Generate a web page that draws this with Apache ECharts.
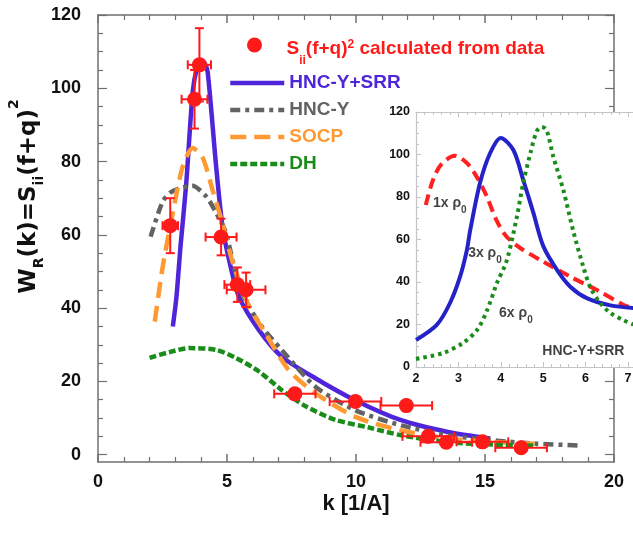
<!DOCTYPE html>
<html><head><meta charset="utf-8">
<script src="https://cdn.jsdelivr.net/npm/echarts@6/dist/echarts.min.js"></script>
<style>html,body{margin:0;padding:0;background:#fff}#c{width:633px;height:536px}</style>
</head><body><div id="c"></div>
<script>
// ---- main panel data ----
var dataK    = [2.8, 3.93, 3.74, 4.77, 5.4, 5.74, 7.63, 9.98, 11.95, 12.8, 13.5, 14.9, 16.4];
var dataV    = [62.5, 106.4, 97, 59.4, 46.4, 45, 16.6, 14.5, 13.4, 5.0, 3.4, 3.5, 1.9];
var dataKErr = [0.3, 0.45, 0.5, 0.6, 0.5, 0.75, 0.8, 1.0, 1.0, 1.0, 1.0, 1.0, 1.0];
var dataVErr = [7.5, 10, 8, 5, 4.7, 4.7, 1, 1, 1, 1, 1, 1, 1];

var srrK = [2.9, 3.04, 3.2, 3.42, 3.67, 3.85, 4.0, 4.12, 4.25, 4.58, 4.83, 5.15, 5.47, 6.24, 7.13, 8.44, 9.98, 11.75, 13.56, 15.2];
var srrV = [35, 43, 57, 74, 99, 106, 107.7, 107, 104.5, 78.6, 62, 51, 43, 34, 26.7, 20.8, 14.8, 9.4, 6.2, 4.4];

var hncK = [2.04, 2.5, 2.8, 3.16, 3.66, 4.19, 4.58, 4.96, 5.47, 6.24, 7.13, 8.44, 9.98, 11.75, 13.56, 15.5, 17, 18.65];
var hncV = [59.5, 69, 71.5, 72.7, 73.4, 70.5, 66, 60.5, 46, 36, 28.5, 18.5, 12.1, 8, 5.3, 3.8, 3.0, 2.5];

var socpK = [2.2, 2.5, 2.9, 3.28, 3.67, 4.06, 4.45, 4.83, 5.2, 5.86, 6.5, 7.4, 8.44, 9.98, 11.75, 13.56, 15.5, 17.2];
var socpV = [36.3, 51, 66, 78.6, 83.7, 81, 72, 63, 53, 40.4, 33, 23, 16.7, 10.3, 6.6, 4.4, 3.4, 2.9];

var dhK = [2.0, 2.77, 3.55, 4.58, 5.35, 6.24, 7.13, 8.05, 9.2, 10.5, 11.75, 13.56, 15.5, 17.0];
var dhV = [26.4, 28, 29.1, 28.6, 26.4, 22.7, 17.6, 13.2, 9.5, 7.4, 5.3, 3.4, 2.7, 2.4];

var mainXTicks = [0, 5, 10, 15, 20];
var mainYLabels = [0, 20, 40, 60, 80, 100, 120];
var mainYMinor = [5, 10, 15, 25, 30, 35, 45, 50, 55, 65, 70, 75, 85, 90, 95, 105, 110, 115];

// ---- inset data ----
var rho1K = [2.23, 2.4, 2.6, 2.92, 3.2, 3.43, 3.67, 3.9, 4.14, 4.46, 4.93, 5.64, 6.27, 6.9, 7.13];
var rho1V = [76.2, 88, 95.5, 99.4, 96, 89.6, 80.3, 69, 61.3, 56, 50.4, 42.5, 36.2, 29.2, 27.5];

var rho3K = [2.0, 2.49, 2.8, 3.04, 3.2, 3.28, 3.51, 3.75, 4.0, 4.3, 4.53, 4.77, 5.0, 5.33, 5.64, 6.03, 6.59, 7.13];
var rho3V = [12.7, 19.8, 30, 42.5, 55, 64.5, 86.6, 100.7, 107.8, 102, 88, 72.5, 57, 45.6, 37.8, 32.4, 29, 27.8];

var rho6K = [2.0, 2.64, 3.11, 3.44, 3.68, 3.91, 4.14, 4.38, 4.53, 4.7, 4.85, 4.97, 5.08, 5.24, 5.48, 5.71, 5.95, 6.11, 6.35, 6.59, 6.9, 7.13];
var rho6V = [3.8, 6.6, 11.3, 17.4, 26.8, 39.5, 50, 70.7, 86.6, 100.7, 111, 113, 111.5, 99, 83, 64, 47, 37.6, 30, 25.4, 22, 20];

var insetLabelK = [2.4, 3.23, 3.96, 4.98];
var insetLabelV = [77, 53.6, 25.4, 7.5];
var insetLabelText = ['1x', '3x', '6x', 'HNC-Y+SRR'];

function zip(a, b) { return a.map(function (v, i) { return [v, b[i]]; }); }

var FONT = '"Liberation Sans", Arial, sans-serif';
var RED = '#ff1a1a', BLUE = '#4f25d9', GRAY = '#636363', ORANGE = '#ff9a33', GREEN = '#1a8c1a';
var FRAME = '#707070', IFRAME = '#c4c4c4';

var chart = echarts.init(document.getElementById('c'), null, { renderer: 'canvas' });

function mainX(pos, labels) {
  return {
    type: 'value', gridIndex: 0, position: pos, min: 0, max: 20, interval: 5,
    axisLine: { show: true, onZero: false, lineStyle: { color: FRAME, width: 1.5 } },
    axisTick: { show: true, inside: true, length: 8, lineStyle: { color: FRAME, width: 1.5 } },
    minorTick: { show: true, splitNumber: 5, length: 5, lineStyle: { color: FRAME, width: 1.2 } },
    splitLine: { show: false },
    axisLabel: { show: labels, margin: 11, color: '#111', fontSize: 18, fontWeight: 'bold', fontFamily: FONT }
  };
}
function mainY(pos, major, labels) {
  return {
    type: 'value', gridIndex: 0, position: pos, min: -2, max: 120,
    axisLine: { show: major, onZero: false, lineStyle: { color: FRAME, width: 1.5 } },
    axisTick: { show: true, inside: true, length: major ? 9 : 5, customValues: major ? mainYLabels : mainYMinor,
      lineStyle: { color: FRAME, width: 1.2 } },
    splitLine: { show: false },
    axisLabel: { show: labels, customValues: mainYLabels, margin: 17, color: '#111', fontSize: 18, fontWeight: 'bold', fontFamily: FONT }
  };
}

var yName = {
  type: 'value', gridIndex: 0, position: 'left', min: -2, max: 120,
  axisLine: { show: true, onZero: false, lineStyle: { color: FRAME, width: 1.5 } },
  axisTick: { show: true, inside: true, length: 9, customValues: mainYLabels, lineStyle: { color: FRAME, width: 1.2 } },
  splitLine: { show: false },
  axisLabel: { show: true, customValues: mainYLabels, margin: 17, color: '#111', fontSize: 18, fontWeight: 'bold', fontFamily: FONT },
  name: '{a|W}{s|R}{a|(k)=S}{s|ii}{a|(f+q)}{p|2}',
  nameLocation: 'middle', nameRotate: 90, nameGap: 57, nameMoveOverlap: false,
  nameTextStyle: {
    padding: [0, 0, 0, 84],
    rich: {
      a: { fontSize: 23, fontWeight: 'bold', fontFamily: '"DejaVu Sans", sans-serif', color: '#111', lineHeight: 24, verticalAlign: 'middle' },
      s: { fontSize: 14, fontWeight: 'bold', fontFamily: '"DejaVu Sans", sans-serif', color: '#111', lineHeight: 14, padding: [20, 0, 0, 0], verticalAlign: 'middle' },
      p: { fontSize: 14, fontWeight: 'bold', fontFamily: '"DejaVu Sans", sans-serif', color: '#111', lineHeight: 14, padding: [0, 0, 30, 0], verticalAlign: 'middle' }
    }
  }
};

var xMainBottom = mainX('bottom', true);
xMainBottom.name = 'k [1/A]';
xMainBottom.nameLocation = 'middle';
xMainBottom.nameGap = 31;
xMainBottom.nameMoveOverlap = false;
xMainBottom.nameTextStyle = { fontSize: 22, fontWeight: 'bold', fontFamily: FONT, color: '#111' };

function insetX(pos, labels) {
  return {
    type: 'value', gridIndex: 1, position: pos, min: 2, max: 7.12, interval: 1, z: 6,
    axisLine: { show: true, onZero: false, lineStyle: { color: IFRAME, width: 1.2 } },
    axisTick: { show: true, inside: true, length: 5, lineStyle: { color: IFRAME } },
    minorTick: { show: true, splitNumber: 5, length: 3, lineStyle: { color: IFRAME } },
    splitLine: { show: false },
    axisLabel: { show: labels, margin: 5, color: '#111', fontSize: 12.5, fontWeight: 'bold', fontFamily: FONT }
  };
}
var insetY = {
  type: 'value', gridIndex: 1, position: 'left', min: 0, max: 120, interval: 20, z: 6,
  axisLine: { show: true, onZero: false, lineStyle: { color: IFRAME, width: 1.2 } },
  axisTick: { show: true, inside: true, length: 5, lineStyle: { color: IFRAME } },
  minorTick: { show: true, splitNumber: 4, length: 3, lineStyle: { color: IFRAME } },
  splitLine: { show: false },
  axisLabel: { show: true, margin: 6, color: '#111', fontSize: 12.5, fontWeight: 'bold', fontFamily: FONT }
};

function legendRow(name, top, color, itemH, extra) {
  var l = {
    data: [name], orient: 'vertical', left: 228, top: top, padding: 0,
    itemWidth: 54, itemHeight: itemH, selectedMode: false,
    itemStyle: { color: 'rgba(0,0,0,0)', borderWidth: 0 },
    lineStyle: { width: 4.5 },
    textStyle: { color: color, fontSize: 19, fontWeight: 'bold', fontFamily: FONT }
  };
  if (extra) for (var k in extra) l[k] = extra[k];
  return l;
}

var richLegend = {
  a: { fontSize: 19, fontWeight: 'bold', fontFamily: FONT, color: RED, lineHeight: 20, padding: [8, 0, 0, 0], verticalAlign: 'middle' },
  b: { fontSize: 12, fontWeight: 'bold', fontFamily: FONT, color: RED, lineHeight: 12, padding: [32, 0, 0, 0], verticalAlign: 'middle' },
  c: { fontSize: 12, fontWeight: 'bold', fontFamily: FONT, color: RED, lineHeight: 12, verticalAlign: 'middle' }
};

var errData = dataK.map(function (k, i) { return [k, dataV[i], dataKErr[i], dataVErr[i]]; });

var option = {
  animation: false,
  backgroundColor: '#fff',
  grid: [
    { left: 98, right: 19, top: 15, bottom: 74, containLabel: false, outerBoundsMode: 'none' },
    { left: 416, right: 0, top: 112, bottom: 169, show: true, backgroundColor: '#fff', borderWidth: 0, z: 5,
      containLabel: false, outerBoundsMode: 'none' }
  ],
  legend: [
    legendRow('data', 23, RED, 15, {
      left: 247,
      itemStyle: {},
      formatter: function () { return '{a|S}{b|ii}{a|(f+q)}{c|2}{a| calculated from data}'; },
      textStyle: { color: RED, fontSize: 19, fontWeight: 'bold', fontFamily: FONT, rich: richLegend }
    }),
    legendRow('HNC-Y+SRR', 73.5, BLUE, 14),
    legendRow('HNC-Y', 100.5, GRAY, 14),
    legendRow('SOCP', 127.5, ORANGE, 14),
    legendRow('DH', 154.5, GREEN, 14)
  ],
  xAxis: [xMainBottom, mainX('top', false), insetX('bottom', true), insetX('top', false)],
  yAxis: [yName, mainY('left', false, false), mainY('right', true, false), mainY('right', false, false), insetY],
  series: [
    { name: 'HNC-Y+SRR', type: 'line', xAxisIndex: 0, yAxisIndex: 0, data: zip(srrK, srrV), smooth: 0.25,
      symbol: 'none', lineStyle: { color: BLUE, width: 4.5 }, itemStyle: { color: BLUE }, z: 3 },
    { name: 'HNC-Y', type: 'line', xAxisIndex: 0, yAxisIndex: 0, data: zip(hncK, hncV), smooth: 0.25,
      symbol: 'none', lineStyle: { color: GRAY, width: 4.5, type: [10, 5, 4, 5] }, itemStyle: { color: GRAY }, z: 3 },
    { name: 'SOCP', type: 'line', xAxisIndex: 0, yAxisIndex: 0, data: zip(socpK, socpV), smooth: 0.25,
      symbol: 'none', lineStyle: { color: ORANGE, width: 4.5, type: [16, 8] }, itemStyle: { color: ORANGE }, z: 3 },
    { name: 'DH', type: 'line', xAxisIndex: 0, yAxisIndex: 0, data: zip(dhK, dhV), smooth: 0.25,
      symbol: 'none', lineStyle: { color: GREEN, width: 4.5, type: [7, 3] }, itemStyle: { color: GREEN }, z: 3 },
    { name: 'errors', type: 'custom', xAxisIndex: 0, yAxisIndex: 0, data: errData, z: 4,
      encode: { x: 0, y: 1 },
      renderItem: function (params, api) {
        var x = api.value(0), y = api.value(1), dx = api.value(2), dy = api.value(3);
        var l = api.coord([x - dx, y]), r = api.coord([x + dx, y]);
        var t = api.coord([x, y + dy]), b = api.coord([x, y - dy]);
        var cap = 4.5, st = { stroke: RED, lineWidth: 2 };
        function ln(x1, y1, x2, y2) { return { type: 'line', shape: { x1: x1, y1: y1, x2: x2, y2: y2 }, style: st }; }
        return { type: 'group', children: [
          ln(l[0], l[1], r[0], r[1]),
          ln(l[0], l[1] - cap, l[0], l[1] + cap),
          ln(r[0], r[1] - cap, r[0], r[1] + cap),
          ln(t[0], t[1], b[0], b[1]),
          ln(t[0] - cap, t[1], t[0] + cap, t[1]),
          ln(b[0] - cap, b[1], b[0] + cap, b[1])
        ] };
      }
    },
    { name: 'data', type: 'scatter', xAxisIndex: 0, yAxisIndex: 0, data: zip(dataK, dataV), symbol: 'circle',
      symbolSize: 15, itemStyle: { color: RED, opacity: 1 }, z: 5 },
    // inset
    { name: 'rho1', type: 'line', xAxisIndex: 2, yAxisIndex: 4, data: zip(rho1K, rho1V), smooth: 0.3, symbol: 'none',
      lineStyle: { color: '#ff2020', width: 4, type: [11, 6] }, z: 7 },
    { name: 'rho3', type: 'line', xAxisIndex: 2, yAxisIndex: 4, data: zip(rho3K, rho3V), smooth: 0.3, symbol: 'none',
      lineStyle: { color: '#2323c8', width: 4 }, z: 7 },
    { name: 'rho6', type: 'line', xAxisIndex: 2, yAxisIndex: 4, data: zip(rho6K, rho6V), smooth: 0.3, symbol: 'none',
      lineStyle: { color: GREEN, width: 4, type: [3.5, 4] }, z: 7 },
    { name: 'insetLabels', type: 'scatter', xAxisIndex: 2, yAxisIndex: 4, symbolSize: 0, z: 8,
      data: insetLabelK.map(function (k, i) { return [k, insetLabelV[i], insetLabelText[i]]; }),
      label: { show: true, position: 'right', distance: 0,
        formatter: function (p) { return p.data[2] === 'HNC-Y+SRR' ? '{t|HNC-Y+SRR}' : '{t|' + p.data[2] + ' \u03c1}{s|0}'; },
        rich: {
          t: { fontSize: 14, fontWeight: 'bold', fontFamily: FONT, color: '#111', lineHeight: 16, verticalAlign: 'middle' },
          s: { fontSize: 10, fontWeight: 'bold', fontFamily: FONT, color: '#111', lineHeight: 10, padding: [14, 0, 0, 0], verticalAlign: 'middle' }
        }
      },
      emphasis: { disabled: true }
    }
  ]
};
chart.setOption(option);
</script></body></html>
